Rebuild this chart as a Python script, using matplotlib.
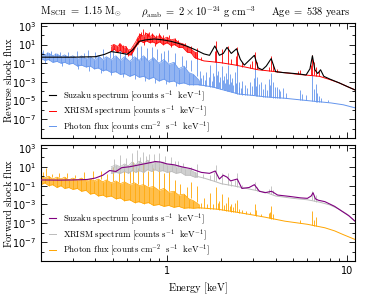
import matplotlib
matplotlib.use("Agg")
import matplotlib.pyplot as plt
import numpy as np
from matplotlib.ticker import FixedLocator, FixedFormatter, NullFormatter, LogFormatterSciNotation

# all fluxes are log10 values, energies in keV
# bands: (energy, log10 lower edge, log10 upper edge) of the dense noisy part
# lines: (energy, log10 start, log10 end) of each narrow spike

# ---- reverse shock (top panel) ----
rs_suzaku_E = [0.20, 0.30, 0.40, 0.45, 0.49, 0.55, 0.60, 0.65, 0.70, 0.76, 0.85, 0.95,
               1.05, 1.17, 1.30, 1.45, 1.60, 1.72, 1.84, 1.95, 2.05, 2.15, 2.27, 2.43,
               2.55, 2.68, 2.85, 3.05, 3.20, 3.37, 3.55, 3.78, 4.00, 4.40, 4.76, 5.40,
               5.90, 6.20, 6.40, 6.60, 6.85, 7.10, 7.40, 8.00, 9.00, 10.0, 11.0]
rs_suzaku_log = [-0.35, -0.35, -0.30, -0.05, 0.25, 0.10, -0.05, 0.50, 1.35, 1.50, 1.60, 1.50,
                 1.35, 1.10, 0.80, 0.40, 0.00, -0.15, 0.85, -0.15, 0.05, 0.70, 0.05, 0.55,
                 -0.60, -1.20, -0.70, -0.15, -1.50, -1.70, -1.30, -0.50, -1.90, -2.00, -2.05, -2.15,
                 -2.26, -1.60, -0.20, -1.70, -2.10, -1.70, -2.40, -2.70, -3.10, -3.50, -3.85]

rs_xrism_band = [(0.49, 0.3, 0.9), (0.51, 0.5, 1.0), (0.53, 0.2, 0.8), (0.55, 0.4, 1.1),
                 (0.57, 0.1, 0.7), (0.59, 0.2, 0.8), (0.61, -0.1, 0.4), (0.63, -0.1, 0.5),
                 (0.65, 0.3, 0.9), (0.67, 0.8, 1.3), (0.69, 1.1, 1.8), (0.71, 1.4, 2.1),
                 (0.74, 1.2, 1.9), (0.77, 1.4, 2.2), (0.80, 1.2, 1.8), (0.83, 1.3, 2.1),
                 (0.87, 1.1, 1.7), (0.91, 1.3, 2.0), (0.95, 1.0, 1.6), (1.00, 1.2, 1.8),
                 (1.05, 0.9, 1.5), (1.10, 1.0, 1.6), (1.16, 0.7, 1.2), (1.22, 0.7, 1.1),
                 (1.29, 0.2, 0.8), (1.36, 0.1, 0.5), (1.42, -0.4, 0.2), (1.47, -0.5, 0.1)]
rs_xrism_cont_E = [1.47, 1.60, 1.80, 2.00, 2.40, 2.70, 3.20, 4.00, 5.40, 7.00, 8.00, 9.00, 10.0, 11.0]
rs_xrism_cont_log = [-0.5, -0.75, -0.85, -0.95, -1.2, -1.4, -1.7, -1.9, -2.2, -2.4, -2.75, -3.1, -3.5, -3.85]
rs_xrism_lines = [(0.50, 0.8, 1.1), (0.54, 0.85, 1.2), (0.57, 0.6, 1.0), (0.61, 0.1, -0.2),
                  (0.68, 1.3, 1.7), (0.70, 1.7, 2.2), (0.72, 1.9, 2.4), (0.735, 2.0, 2.7),
                  (0.74, 1.3, 1.0), (0.75, 2.0, 2.3), (0.78, 1.9, 2.2), (0.79, 1.9, 2.4),
                  (0.83, 1.9, 2.2), (0.86, 1.2, 0.9), (0.87, 1.7, 2.0), (0.90, 1.8, 2.2),
                  (0.95, 1.5, 2.0), (1.02, 1.7, 2.0), (1.05, 1.0, 0.7), (1.10, 1.4, 1.7),
                  (1.15, 1.2, 1.5), (1.25, 1.0, 1.2), (1.35, 0.5, 0.9), (1.47, -0.5, 0.6),
                  (1.55, -0.7, -0.3), (1.84, -0.85, 0.3), (1.86, -0.85, 1.4), (2.006, -0.95, 0.5),
                  (2.18, -1.05, 0.9), (2.26, -1.1, -0.5), (2.40, -1.2, -0.2), (2.45, -1.2, 0.7),
                  (2.62, -1.35, -0.9), (2.88, -1.5, -1.1), (2.96, -1.55, -0.8), (3.06, -1.6, 0.2),
                  (3.14, -1.65, -0.9), (3.69, -1.85, -1.4), (3.78, -1.85, -0.2), (3.88, -1.87, -1.1),
                  (4.05, -1.9, -1.6), (5.30, -2.2, -1.8), (5.44, -2.2, -1.7), (6.30, -2.3, -1.2),
                  (6.40, -2.3, -0.1), (6.50, -2.3, -0.9), (6.70, -2.35, -1.4), (7.00, -2.4, -1.8)]

rs_photon_band = [(0.200, -0.5, 0.2), (0.210, -0.7, -0.1), (0.220, -0.6, 0.1), (0.232, -0.9, -0.2),
                  (0.245, -0.8, 0.0), (0.258, -1.0, -0.3), (0.270, -0.9, -0.1), (0.285, -1.1, -0.4),
                  (0.300, -1.0, -0.2), (0.318, -1.3, -0.5), (0.335, -1.2, -0.2), (0.355, -1.4, -0.5),
                  (0.375, -1.3, -0.3), (0.395, -1.6, -0.6), (0.415, -1.5, -0.2), (0.440, -1.8, -0.6),
                  (0.460, -1.7, -0.3), (0.490, -2.0, -0.6), (0.520, -1.9, -0.2), (0.550, -2.2, -0.7),
                  (0.580, -2.1, -0.3), (0.620, -2.4, -0.8), (0.660, -2.2, -0.3), (0.700, -2.5, -0.7),
                  (0.740, -2.4, -0.2), (0.790, -2.7, -0.8), (0.840, -2.5, -0.4), (0.900, -2.9, -1.0),
                  (0.960, -2.7, -0.6), (1.020, -3.0, -1.1), (1.090, -2.9, -0.9), (1.160, -3.2, -1.6),
                  (1.240, -3.1, -1.3), (1.320, -3.3, -2.0), (1.400, -3.3, -2.2), (1.500, -3.3, -2.8)]
rs_photon_cont_E = [1.50, 1.80, 2.00, 2.50, 3.00, 3.50, 4.50, 6.00, 8.10, 9.50, 11.0]
rs_photon_cont_log = [-3.3, -3.55, -3.8, -4.3, -4.45, -4.6, -4.75, -5.0, -5.25, -5.45, -5.77]
rs_photon_lines = [(0.205, 0.0, 0.4), (0.215, -0.1, 0.2), (0.228, -0.1, 0.3), (0.24, -0.2, 0.1),
                   (0.255, -0.2, 0.2), (0.283, -0.3, 0.2), (0.315, -0.3, 0.3), (0.345, -0.4, 0.1),
                   (0.362, -0.4, 0.4), (0.40, -0.4, 0.2), (0.44, -0.4, 0.5), (0.48, -0.4, 0.3),
                   (0.50, -0.4, 0.7), (0.545, -0.5, 0.5), (0.585, -0.5, 0.6), (0.64, -0.5, 0.6),
                   (0.68, -0.6, 0.7), (0.72, -0.6, 0.8), (0.77, -0.6, 0.6), (0.82, -0.7, 0.7),
                   (0.88, -0.7, 0.5), (0.92, -0.8, 0.1), (0.96, -0.8, 0.3), (1.01, -0.9, 0.4),
                   (1.10, -1.1, 0.1), (1.21, -1.3, -0.2), (1.27, -1.5, -0.7), (1.35, -1.8, -0.6),
                   (1.47, -2.4, -0.5),
                   (0.21, -0.6, -1.0), (0.26, -0.9, -1.3), (0.32, -1.1, -1.6), (0.37, -1.3, -1.8),
                   (0.43, -1.5, -2.0), (0.49, -1.7, -2.3), (0.57, -2.0, -2.5), (0.66, -2.2, -2.7),
                   (0.75, -2.4, -2.9), (0.86, -2.6, -3.1), (0.98, -2.8, -3.2), (1.12, -3.0, -3.4),
                   (1.52, -3.3, -1.8), (1.55, -3.3, -2.6), (1.58, -3.35, -2.3), (1.62, -3.4, -2.8),
                   (1.65, -3.4, -1.9), (1.70, -3.45, -2.5), (1.74, -3.5, -1.2), (1.77, -3.5, -2.9),
                   (1.80, -3.55, -2.0), (1.83, -3.55, -2.4), (1.86, -3.6, 0.7), (1.89, -3.65, -2.3),
                   (1.92, -3.65, -1.8), (1.95, -3.7, -3.0), (1.97, -3.75, -2.5), (2.006, -3.8, -1.3),
                   (2.03, -3.8, -2.8), (2.06, -3.85, -2.4), (2.09, -3.9, -3.1), (2.12, -3.9, -2.0),
                   (2.15, -3.92, -2.7), (2.18, -3.95, -1.2), (2.21, -3.97, -3.2), (2.24, -4.0, -2.2),
                   (2.27, -4.05, -3.0), (2.30, -4.1, -2.6), (2.33, -4.1, -3.3), (2.37, -4.15, -1.9),
                   (2.41, -4.2, -3.1), (2.45, -4.25, -1.0), (2.49, -4.27, -3.5), (2.52, -4.3, -3.0),
                   (2.57, -4.32, -3.6), (2.62, -4.35, -2.9), (2.70, -4.35, -3.3), (2.78, -4.4, -3.7),
                   (2.88, -4.4, -3.0), (2.96, -4.45, -3.4), (3.03, -4.45, -2.6), (3.06, -4.45, -1.5),
                   (3.10, -4.47, -3.4), (3.14, -4.5, -2.5), (3.25, -4.55, -3.2), (3.32, -4.55, -3.0),
                   (3.40, -4.57, -3.8), (3.50, -4.6, -3.2), (3.60, -4.62, -3.9), (3.69, -4.65, -2.7),
                   (3.73, -4.65, -3.3), (3.78, -4.65, -2.0), (3.88, -4.7, -3.0), (3.95, -4.7, -3.5),
                   (4.05, -4.7, -3.5), (4.15, -4.72, -3.8), (4.25, -4.73, -4.0), (4.40, -4.75, -3.6),
                   (4.55, -4.76, -4.2), (5.44, -4.9, -3.9), (5.60, -4.92, -4.3), (5.90, -4.97, -4.4),
                   (6.40, -5.05, -2.0), (6.55, -5.07, -3.8), (6.70, -5.1, -3.2), (6.80, -5.12, -4.2),
                   (6.95, -5.14, -4.5), (7.10, -5.15, -4.7), (7.80, -5.2, -4.9)]

# ---- forward shock (bottom panel) ----
fs_suzaku_E = [0.20, 0.25, 0.30, 0.36, 0.40, 0.44, 0.48, 0.52, 0.56, 0.62, 0.70, 0.79,
               0.86, 0.92, 1.00, 1.10, 1.20, 1.35, 1.47, 1.55, 1.72, 1.85, 1.95, 2.05,
               2.15, 2.25, 2.45, 2.60, 2.85, 3.05, 3.25, 3.50, 3.80, 4.10, 4.80, 5.50,
               6.00, 6.30, 6.45, 6.65, 6.90, 7.50, 8.50, 9.30, 10.2, 11.0]
fs_suzaku_log = [-0.40, -0.42, -0.40, -0.35, -0.20, 0.10, 0.60, 0.50, 0.90, 1.00, 1.20, 1.40,
                 1.55, 1.50, 1.30, 1.20, 1.00, 0.80, 0.55, 0.40, 0.30, 0.55, -0.30, 0.10,
                 -0.10, -0.50, -0.30, -1.30, -1.20, -0.90, -1.60, -1.75, -1.60, -2.00, -2.15, -2.30,
                 -2.35, -2.10, -1.75, -2.40, -2.55, -2.70, -3.20, -3.70, -4.20, -4.75]

fs_xrism_band = [(0.49, 0.3, 1.0), (0.52, 0.4, 1.2), (0.55, 0.3, 1.0), (0.58, 0.5, 1.3),
                 (0.61, 0.3, 1.1), (0.64, 0.6, 1.5), (0.67, 0.4, 1.2), (0.70, 0.6, 1.6),
                 (0.74, 0.4, 1.3), (0.78, 0.7, 1.7), (0.82, 0.5, 1.3), (0.86, 0.7, 1.6),
                 (0.90, 0.5, 1.4), (0.95, 0.6, 1.5), (1.00, 0.4, 1.2), (1.06, 0.5, 1.3),
                 (1.12, 0.3, 1.0), (1.19, 0.4, 1.0), (1.26, 0.1, 0.8), (1.34, 0.1, 0.7),
                 (1.42, -0.1, 0.4), (1.47, -0.1, 0.3)]
fs_xrism_cont_E = [1.45, 1.60, 1.80, 2.00, 2.30, 2.60, 3.00, 3.50, 4.00, 5.00, 6.00, 7.00,
                   8.00, 9.00, 10.0, 11.0]
fs_xrism_cont_log = [0.0, -0.2, -0.5, -0.8, -1.0, -1.2, -1.45, -1.7, -2.1, -2.35, -2.5, -2.75,
                     -3.05, -3.5, -4.05, -4.8]
fs_xrism_lines = [(0.51, 1.0, 1.8), (0.55, 1.0, 2.2), (0.59, 1.2, 1.9), (0.635, 1.3, 2.5),
                  (0.685, 1.4, 2.8), (0.71, 1.5, 2.0), (0.735, 1.3, 2.6), (0.76, 1.5, 2.1),
                  (0.79, 1.6, 2.4), (0.845, 1.5, 2.3), (0.905, 1.4, 2.5), (0.97, 1.5, 2.1),
                  (1.05, 1.3, 2.0), (1.10, 1.2, 1.6), (1.15, 1.0, 1.6), (1.22, 1.0, 1.4),
                  (1.35, 0.7, 1.0), (1.47, 0.0, 1.3), (1.58, -0.15, 0.2), (1.74, -0.4, 0.1),
                  (1.83, -0.5, 0.4), (1.86, -0.55, 1.2), (2.006, -0.8, 0.3), (2.18, -0.95, 0.3),
                  (2.26, -1.0, -0.5), (2.37, -1.05, -0.4), (2.45, -1.1, 0.3), (2.62, -1.25, -0.9),
                  (3.06, -1.5, -0.6), (3.14, -1.55, -1.1), (3.69, -1.8, -1.4), (3.78, -1.85, -1.0),
                  (3.88, -1.9, -1.5), (6.40, -2.55, -1.6), (6.55, -2.6, -2.1), (6.70, -2.7, -2.0)]

fs_photon_band = [(0.200, -0.9, 0.0), (0.210, -0.7, -0.2), (0.220, -1.0, 0.0), (0.232, -0.9, -0.3),
                  (0.245, -1.2, -0.1), (0.258, -1.0, -0.3), (0.270, -1.3, -0.1), (0.285, -1.2, -0.4),
                  (0.300, -1.4, -0.2), (0.318, -1.3, -0.4), (0.335, -1.6, -0.2), (0.355, -1.5, -0.5),
                  (0.375, -1.9, -0.3), (0.395, -1.8, -0.5), (0.415, -2.1, -0.3), (0.440, -2.0, -0.6),
                  (0.460, -2.2, -0.4), (0.490, -2.1, -0.7), (0.520, -2.4, -0.5), (0.550, -2.3, -0.8),
                  (0.580, -2.6, -0.6), (0.620, -2.5, -0.9), (0.660, -2.8, -0.7), (0.700, -2.7, -1.0),
                  (0.740, -2.9, -0.9), (0.790, -2.8, -1.2), (0.840, -3.1, -1.1), (0.900, -3.0, -1.5),
                  (0.960, -3.2, -1.3), (1.020, -3.1, -1.7), (1.090, -3.3, -1.6), (1.160, -3.2, -2.0),
                  (1.240, -3.4, -1.9), (1.320, -3.35, -2.4), (1.400, -3.4, -2.6), (1.500, -3.35, -3.0)]
fs_photon_cont_E = [1.50, 1.90, 2.40, 2.90, 3.50, 4.50, 6.00, 7.50, 8.50, 9.50, 11.0]
fs_photon_cont_log = [-3.35, -3.5, -3.8, -4.07, -4.35, -4.77, -5.1, -5.47, -5.8, -6.2, -6.7]
fs_photon_lines = [(0.205, 0.0, 0.4), (0.213, 0.0, 0.9), (0.23, -0.1, 0.2), (0.25, -0.1, 0.3),
                   (0.28, -0.2, 0.3), (0.31, -0.2, 0.1), (0.346, -0.25, 0.4), (0.386, -0.3, 0.5),
                   (0.43, -0.35, 0.6), (0.463, -0.4, 0.2), (0.50, -0.5, 1.0), (0.54, -0.6, 0.4),
                   (0.58, -0.6, 0.8), (0.62, -0.7, 0.5), (0.645, -0.7, 1.5), (0.69, -0.8, 0.9),
                   (0.735, -0.9, 1.3), (0.785, -1.0, 0.6), (0.84, -1.2, 0.9), (0.90, -1.4, 1.0),
                   (0.96, -1.5, 0.3), (1.02, -1.6, 0.5), (1.10, -1.7, -0.4), (1.18, -1.9, -0.8),
                   (1.29, -2.2, -1.2), (1.35, -2.3, -0.6), (1.47, -2.7, -1.0),
                   (1.55, -3.38, -2.8), (1.60, -3.4, -2.3), (1.66, -3.42, -2.9), (1.74, -3.45, -1.8),
                   (1.80, -3.48, -2.9), (1.86, -3.5, -1.2), (1.91, -3.52, -2.8), (1.95, -3.55, -2.6),
                   (2.006, -3.6, -1.9), (2.06, -3.62, -3.1), (2.13, -3.7, -2.8), (2.18, -3.7, -2.2),
                   (2.22, -3.72, -3.2), (2.26, -3.75, -3.0), (2.32, -3.78, -3.3), (2.37, -3.8, -2.8),
                   (2.45, -3.85, -2.5), (2.52, -3.9, -3.5), (2.62, -3.95, -3.6), (2.75, -4.0, -3.7),
                   (2.88, -4.05, -3.8), (3.06, -4.15, -3.0), (3.12, -4.18, -3.6), (3.30, -4.25, -4.0),
                   (3.69, -4.45, -3.9), (3.73, -4.48, -3.8), (3.78, -4.5, -3.2), (3.88, -4.55, -4.0),
                   (5.44, -4.95, -4.6), (6.40, -5.2, -3.7), (6.55, -5.25, -4.6), (6.70, -5.28, -4.3)]

rs_color = {"suzaku": "black", "xrism": "red", "photon": "#6495ED"}
fs_color = {"suzaku": "#800080", "xrism": "#BBBBBB", "photon": "#FFA500"}

labels = [r"$\mathrm{Suzaku\ spectrum\ [counts\ s^{-1}\ \ keV^{-1}]}$",
          r"$\mathrm{XRISM\ spectrum\ [counts\ s^{-1}\ \ keV^{-1}]}$",
          r"$\mathrm{Photon\ flux\ [counts\ cm^{-2}\ \ s^{-1}\ \ keV^{-1}]}$"]


def spectrum(ax, band, cont, lines, color, z):
    bE, blo, bhi = np.array(band).T
    ax.fill_between(bE, 10 ** blo, 10 ** bhi, color=color, lw=0, alpha=0.7, zorder=z)
    ax.plot(bE, 10 ** blo, color=color, lw=0.5, zorder=z)
    ax.plot(bE, 10 ** bhi, color=color, lw=0.5, zorder=z)
    ax.vlines(bE, 10 ** blo, 10 ** bhi, color=color, lw=0.5, zorder=z)
    h, = ax.plot(cont[0], 10 ** np.array(cont[1]), color=color, lw=0.7, zorder=z)
    le, l0, l1 = np.array(lines).T
    ax.vlines(le, 10 ** l0, 10 ** l1, color=color, lw=0.6, zorder=z)
    return h


def draw_panel(ax, suz, xrism, photon, colors, ylabel):
    hp = spectrum(ax, *photon, colors["photon"], 1)
    hx = spectrum(ax, *xrism, colors["xrism"], 2)
    hs, = ax.plot(suz[0], 10 ** np.array(suz[1]), color=colors["suzaku"], lw=0.8, zorder=3)
    ax.set_xscale("log")
    ax.set_yscale("log")
    ax.set_xlim(0.2, 11)
    ax.set_ylim(1e-9, 2e3)
    ax.yaxis.set_major_locator(FixedLocator([10.0 ** k for k in range(-7, 4, 2)]))
    ax.yaxis.set_minor_locator(FixedLocator([10.0 ** k for k in range(-8, 3, 2)]))
    ax.yaxis.set_major_formatter(LogFormatterSciNotation())
    ax.yaxis.set_minor_formatter(NullFormatter())
    ax.xaxis.set_major_locator(FixedLocator([1, 10]))
    ax.xaxis.set_major_formatter(FixedFormatter(["1", "10"]))
    ax.xaxis.set_minor_locator(FixedLocator([0.2, 0.3, 0.4, 0.5, 0.6, 0.7, 0.8, 0.9,
                                             2, 3, 4, 5, 6, 7, 8, 9]))
    ax.xaxis.set_minor_formatter(NullFormatter())
    ax.tick_params(which="both", direction="in", top=True, right=True, labelsize=7, width=0.6)
    ax.tick_params(which="major", length=4)
    ax.tick_params(which="minor", length=2.5)
    for s in ax.spines.values():
        s.set_linewidth(0.8)
    ax.set_ylabel(ylabel, fontsize=7.5, math_fontfamily="cm")
    ax.yaxis.set_label_coords(-0.085, 0.5)
    leg = ax.legend([hs, hx, hp], labels, loc="lower left", bbox_to_anchor=(0.01, -0.02),
                    frameon=False, fontsize=6.3, handlelength=0.8, handletextpad=0.7,
                    labelspacing=0.0, borderaxespad=0.2)
    for t in leg.get_texts():
        t.set_math_fontfamily("cm")
    return ax


fig = plt.figure(figsize=(3.7, 2.96), dpi=100)
ax1 = fig.add_axes([0.111, 0.534, 0.848, 0.388])
ax2 = fig.add_axes([0.111, 0.118, 0.848, 0.392])

draw_panel(ax1, (rs_suzaku_E, rs_suzaku_log),
           (rs_xrism_band, (rs_xrism_cont_E, rs_xrism_cont_log), rs_xrism_lines),
           (rs_photon_band, (rs_photon_cont_E, rs_photon_cont_log), rs_photon_lines),
           rs_color, r"$\mathrm{Reverse\ shock\ flux}$")
draw_panel(ax2, (fs_suzaku_E, fs_suzaku_log),
           (fs_xrism_band, (fs_xrism_cont_E, fs_xrism_cont_log), fs_xrism_lines),
           (fs_photon_band, (fs_photon_cont_E, fs_photon_cont_log), fs_photon_lines),
           fs_color, r"$\mathrm{Forward\ shock\ flux}$")
ax1.tick_params(labelbottom=False)
ax2.set_xlabel(r"$\mathrm{Energy\ [keV]}$", fontsize=7.5, math_fontfamily="cm", labelpad=3)

ty = 1 - 12 / 296
fig.text(81 / 370, ty, r"$\mathrm{M_{SCH}\ =\ 1.15\ M_{\odot}}$", fontsize=7.5,
         math_fontfamily="cm", ha="center", va="center")
fig.text(199 / 370, ty, r"$\rho_{\mathrm{amb}}\ =\ 2\times10^{-24}\ \mathrm{g\ cm^{-3}}$", fontsize=7.5,
         math_fontfamily="cm", ha="center", va="center")
fig.text(311 / 370, ty, r"$\mathrm{Age\ =\ 538\ years}$", fontsize=7.5,
         math_fontfamily="cm", ha="center", va="center")

fig.savefig("out.png", dpi=100)
